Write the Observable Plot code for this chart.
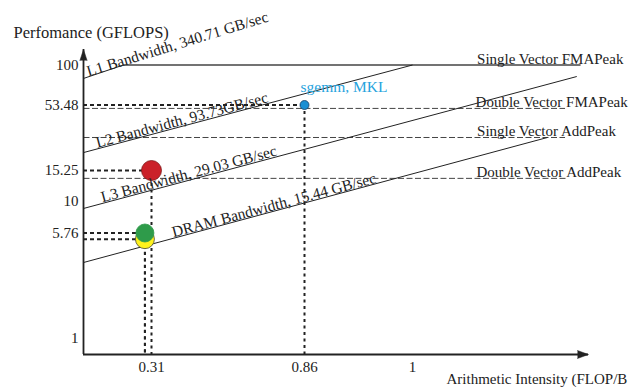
<!DOCTYPE html>
<html><head><meta charset="utf-8">
<script src="https://cdn.jsdelivr.net/npm/d3@7"></script>
<script src="https://cdn.jsdelivr.net/npm/@observablehq/plot@0.6"></script>
<style>html,body{margin:0;padding:0;overflow:hidden;background:#fff}</style>
</head><body><div id="chart"></div>
<script>
// ---- data ----
const yTitle = "Perfomance (GFLOPS)";
const xTitle = "Arithmetic Intensity (FLOP/B";
const xTicks = [0.31, 0.86, 1];
const yTicks = [1, 5.76, 10, 15.25, 53.48, 100];
const xAxisEnd = 1.6;      // intensity at the arrow tip of the x axis
const yAxisBottom = 0.77;  // performance where the x axis sits

const roofNames = ["L1 Bandwidth, 340.71 GB/sec", "L2 Bandwidth, 93.73GB/sec", "L3 Bandwidth, 29.03 GB/sec", "DRAM Bandwidth, 15.44 GB/sec"];
const roofStartX = [0, 0, 0, 0];
const roofStartY = [81, 21.5, 8.85, 3.53];
const roofEndX = [0.182, 1.0, 1.56, 1.46];
const roofEndY = [100, 100, 83.5, 28.7];

const peakNames = ["Single Vector FMAPeak", "Double Vector FMAPeak", "Single Vector AddPeak", "Double Vector AddPeak"];
const peakValues = [100, 50.1, 28.7, 13.7];
const peakStartX = [0.182, 0, 0, 0];
const peakEndX = [1.573, 1.52, 1.52, 1.53];
const peakLabelX = [1.22, 1.215, 1.22, 1.218];

const pointNames = ["sgemm, MKL", "", "", ""];
const pointX = [0.86, 0.31, 0.28, 0.28];
const pointY = [53.48, 15.25, 5.76, 5.2];
const pointColors = ["#1b8fd3", "#cb2129", "#2e9b4a", "#fff21c"];

// ---- styles ----
const pointRadius = [4.5, 10, 9, 9.5];
const pointStroke = ["#163e66", "#7d1a1a", "#2e9b4a", "#4a4a3a"];
const roofLabelStyle = [
  {dx: 5, dy: -2, rotate: -17},
  {dx: 14, dy: -4.8, rotate: -15},
  {dx: 19, dy: -6.3, rotate: -15},
  {dx: 90, dy: -25.3, rotate: -15}
];
const ink = "#222";
const font = "Liberation Serif";

const pts = pointX.map((_, i) => i);
const roofs = roofNames.map((_, i) => i);

const marks = [
  // peak ceilings
  Plot.link([0], {x1: i => peakStartX[i], x2: i => peakEndX[i], y1: i => peakValues[i], y2: i => peakValues[i], stroke: "#444", strokeWidth: 1.3}),
  Plot.link([1, 2, 3], {x1: i => peakStartX[i], x2: i => peakEndX[i], y1: i => peakValues[i], y2: i => peakValues[i], stroke: "#444", strokeWidth: 1, strokeDasharray: "6,2.5"}),
  // bandwidth roofs
  Plot.link(roofs, {x1: i => roofStartX[i], y1: i => roofStartY[i], x2: i => roofEndX[i], y2: i => roofEndY[i], stroke: ink, strokeWidth: 1}),
  // dotted guides
  Plot.ruleY(pts, {y: i => pointY[i], x1: 0, x2: i => pointX[i], stroke: ink, strokeWidth: 2, strokeDasharray: "4,3"}),
  Plot.ruleX(pts, {x: i => pointX[i], y1: i => pointY[i], y2: yAxisBottom, stroke: ink, strokeWidth: 2, strokeDasharray: "3,3.5"}),
  // axes lines
  Plot.ruleX([0], {stroke: ink, strokeWidth: 1.8}),
  Plot.ruleY([yAxisBottom], {x1: 0, x2: xAxisEnd, stroke: ink, strokeWidth: 1.8}),
  Plot.vector([0], {frameAnchor: "top-left", rotate: 0, length: 11, r: 3.6, shape: "spike", anchor: "end", fill: ink, stroke: ink, strokeWidth: 0.5, fillOpacity: 1}),
  Plot.vector([0], {frameAnchor: "bottom-right", rotate: 90, length: 11, r: 4, shape: "spike", anchor: "end", fill: ink, stroke: ink, strokeWidth: 0.5, fillOpacity: 1}),
  // points
  Plot.dot(pts, {x: i => pointX[i], y: i => pointY[i], r: i => pointRadius[i], fill: i => pointColors[i], stroke: i => pointStroke[i], strokeWidth: 0.8}),
  Plot.text([0], {x: i => pointX[i], y: i => pointY[i], text: i => pointNames[i], textAnchor: "start", lineAnchor: "bottom", dx: -4, dy: -13, fill: "#27a3dd", fontSize: 15.5}),
  // peak labels
  Plot.text(peakNames.map((_, i) => i), {x: i => peakLabelX[i], y: i => peakValues[i], text: i => peakNames[i], textAnchor: "start", lineAnchor: "bottom", dy: -1.5, fill: ink, fontSize: 15}),
  // roof labels
  ...roofs.map(i => Plot.text([i], {x: j => roofStartX[j], y: j => roofStartY[j], text: j => roofNames[j], textAnchor: "start", lineAnchor: "bottom", fill: ink, fontSize: 15.5, ...roofLabelStyle[i]})),
  // tick labels
  Plot.text(xTicks, {x: d => d, y: yAxisBottom, text: d => String(d), textAnchor: "middle", lineAnchor: "top", dy: 7, fill: ink, fontSize: 15}),
  Plot.text(yTicks, {x: 0, y: d => d, text: d => String(d), textAnchor: "end", lineAnchor: "middle", dx: -5, fill: ink, fontSize: 15}),
  // axis titles
  Plot.text([yTitle], {frameAnchor: "top-left", dx: -70, dy: -12, textAnchor: "start", lineAnchor: "bottom", fill: ink, fontSize: 16.5}),
  Plot.text([xTitle], {frameAnchor: "bottom-right", dx: -142, dy: 29, textAnchor: "start", lineAnchor: "bottom", fill: ink, fontSize: 15})
];

const chart = Plot.plot({
  width: 630,
  height: 387,
  marginLeft: 83,
  marginRight: 42,
  marginTop: 49,
  marginBottom: 33,
  style: {fontFamily: font, fontSize: "15px", background: "#fff", color: ink},
  x: {type: "linear", domain: [0, 0.31, 0.86, 1, xAxisEnd], range: [83, 151, 304, 412, 588], axis: null},
  y: {type: "log", domain: [yAxisBottom, 1, 5.76, 10, 15.25, 53.48, 100], range: [354, 338, 232.5, 201, 170, 104.5, 64.5], axis: null},
  r: {type: "identity"},
  marks
});
document.getElementById("chart").appendChild(chart);
</script>
</body></html>
